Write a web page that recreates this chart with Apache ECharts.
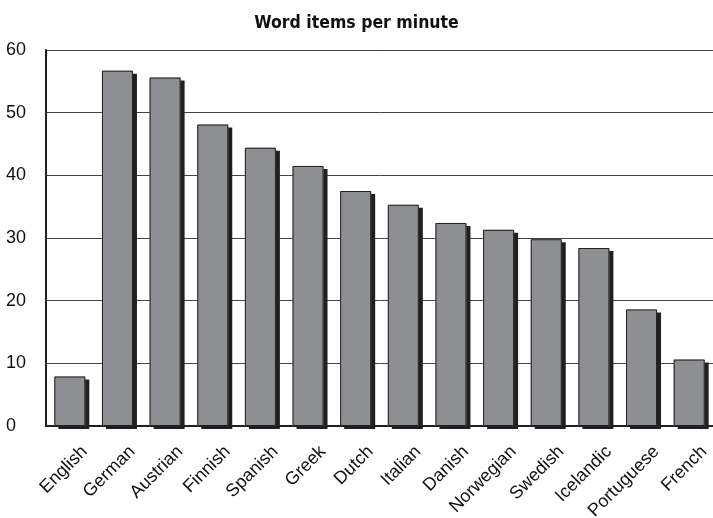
<!DOCTYPE html>
<html>
<head>
<meta charset="utf-8">
<script src="https://cdn.jsdelivr.net/npm/echarts@6/dist/echarts.min.js"></script>
<style>
  html, body { margin: 0; padding: 0; background: #fff; }
  #main { width: 713px; height: 518px; }
</style>
</head>
<body>
<div id="main"></div>
<script>
const languages = ['English', 'German', 'Austrian', 'Finnish', 'Spanish', 'Greek', 'Dutch',
  'Italian', 'Danish', 'Norwegian', 'Swedish', 'Icelandic', 'Portuguese', 'French'];
const wordsPerMinute = [7.9, 56.7, 55.6, 48.1, 44.4, 41.5, 37.5, 35.3, 32.4, 31.3, 29.8, 28.4, 18.6, 10.6];
const yTicks = { min: 0, max: 60, interval: 10 };

const chart = echarts.init(document.getElementById('main'));
chart.setOption({
  animation: false,
  title: {
    text: 'Word items per minute',
    left: 'center',
    top: 9,
    textStyle: {
      fontFamily: 'DejaVu Sans Condensed',
      fontWeight: 'bold',
      fontSize: 17.5,
      color: '#111'
    }
  },
  grid: { left: 46, right: 0, top: 50, bottom: 92, containLabel: false, outerBoundsMode: 'none' },
  xAxis: {
    type: 'category',
    data: languages,
    axisLine: { lineStyle: { color: '#231f20', width: 2 } },
    axisTick: { show: false },
    axisLabel: {
      rotate: 45,
      fontFamily: 'Liberation Sans',
      fontSize: 18,
      color: '#111',
      margin: 8,
      interval: 0,
      verticalAlign: 'top',
      padding: [12, 0, 0, 0]
    }
  },
  yAxis: {
    type: 'value',
    min: yTicks.min,
    max: yTicks.max,
    interval: yTicks.interval,
    axisLine: { show: true, lineStyle: { color: '#231f20', width: 2 } },
    axisTick: { show: false },
    axisLabel: {
      fontFamily: 'Liberation Sans',
      fontSize: 18,
      color: '#111',
      align: 'left',
      margin: 40
    },
    splitLine: { lineStyle: { color: '#444', width: 1 } }
  },
  series: [{
    // filled bars with the dark drop shadow
    type: 'bar',
    data: wordsPerMinute,
    barWidth: 31,
    itemStyle: {
      color: '#8e8f93',
      shadowColor: '#231f20',
      shadowBlur: 0,
      shadowOffsetX: 4,
      shadowOffsetY: 3
    }
  }, {
    // outlines drawn on top, no shadow
    type: 'bar',
    data: wordsPerMinute,
    barWidth: 31,
    barGap: '-100%',
    itemStyle: {
      color: 'rgba(0,0,0,0)',
      borderColor: '#231f20',
      borderWidth: 1
    }
  }]
});
</script>
</body>
</html>
